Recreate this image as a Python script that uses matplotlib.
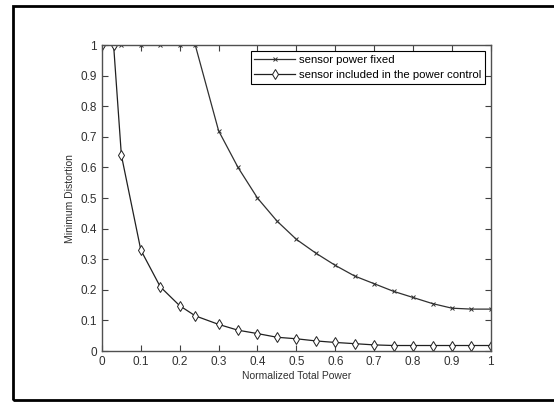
import matplotlib
matplotlib.use('Agg')
import matplotlib.pyplot as plt
from matplotlib.patches import Rectangle

plt.rcParams['font.family'] = ['Liberation Sans', 'DejaVu Sans']

# sensor power fixed
p_fixed = [0, 0.03, 0.05, 0.1, 0.15, 0.2, 0.24, 0.3, 0.35, 0.4, 0.45, 0.5, 0.55,
           0.6, 0.65, 0.7, 0.75, 0.8, 0.85, 0.9, 0.95, 1.0]
d_fixed = [1, 1, 1, 1, 1, 1, 1, 0.72, 0.60, 0.50, 0.425, 0.365, 0.32,
           0.28, 0.245, 0.22, 0.195, 0.175, 0.155, 0.14, 0.137, 0.137]

# sensor included in the power control
p_ctrl = [0, 0.03, 0.05, 0.1, 0.15, 0.2, 0.24, 0.3, 0.35, 0.4, 0.45, 0.5, 0.55,
          0.6, 0.65, 0.7, 0.75, 0.8, 0.85, 0.9, 0.95, 1.0]
d_ctrl = [1, 1, 0.64, 0.33, 0.21, 0.148, 0.115, 0.087, 0.068, 0.057, 0.045, 0.04, 0.033,
          0.028, 0.024, 0.02, 0.018, 0.018, 0.018, 0.018, 0.018, 0.018]

fig = plt.figure(figsize=(5.54, 4.03), dpi=100)
ax = fig.add_axes([0.184, 0.129, 0.702, 0.759])

ax.plot(p_fixed, d_fixed, color='#303030', lw=0.9, marker='x', ms=3.5, mew=0.7,
        label='sensor power fixed')
ax.plot(p_ctrl, d_ctrl, color='#202020', lw=0.9, marker='d', ms=5.5, mew=0.7,
        mfc='white', label='sensor included in the power control')

ax.set_xlim(0, 1)
ax.set_ylim(0, 1)
ax.set_xticks([i / 10 for i in range(11)])
ax.set_yticks([i / 10 for i in range(11)])
ax.set_xticklabels(['0', '0.1', '0.2', '0.3', '0.4', '0.5', '0.6', '0.7', '0.8', '0.9', '1'])
ax.set_yticklabels(['0', '0.1', '0.2', '0.3', '0.4', '0.5', '0.6', '0.7', '0.8', '0.9', '1'])
ax.tick_params(direction='in', top=True, right=True, labelsize=8.5, length=4, width=0.8,
               colors='#404040', labelcolor='#303030')
for s in ax.spines.values():
    s.set_color('#505050')
    s.set_linewidth(1.0)

ax.set_xlabel('Normalized Total Power', fontsize=7.5, color='#303030', labelpad=2)
ax.set_ylabel('Minimum Distortion', fontsize=7.5, color='#303030', labelpad=4)

leg = ax.legend(loc='upper right', fontsize=8.2, fancybox=False, framealpha=1,
                edgecolor='black', handlelength=3.6, borderaxespad=0.5,
                borderpad=0.35, labelspacing=0.45, handletextpad=0.3)
leg.get_frame().set_linewidth(0.8)

# outer frame around the figure
fig.patches.append(Rectangle((13 / 554, 3 / 403), 1.05, 394 / 403, transform=fig.transFigure,
                             fill=False, edgecolor='black', lw=2, clip_on=False))

fig.savefig('out.png', dpi=100)
